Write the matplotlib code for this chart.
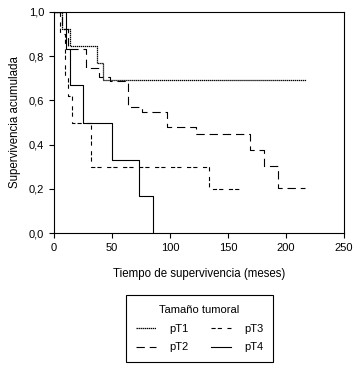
import matplotlib
matplotlib.use("Agg")
import matplotlib.pyplot as plt
from matplotlib.ticker import FuncFormatter, MultipleLocator

plt.rcParams['font.family'] = ['Liberation Sans', 'DejaVu Sans']
plt.rcParams['lines.scale_dashes'] = False

# Kaplan-Meier step data (time in months, cumulative survival)
t_pT1 = [0, 7, 14, 37, 42, 217]
s_pT1 = [1.0, 0.923, 0.846, 0.769, 0.692, 0.692]

t_pT2 = [0, 6.6, 12, 27.5, 39, 48, 63.5, 75.6, 97, 122.4, 169, 181.3, 193.4, 216]
s_pT2 = [1.0, 0.92, 0.83, 0.746, 0.706, 0.686, 0.571, 0.548, 0.479, 0.449, 0.374, 0.303, 0.206, 0.206]

t_pT3 = [0, 5, 9.5, 12.4, 15.2, 31.6, 134, 162.7]
s_pT3 = [1.0, 0.9, 0.7, 0.62, 0.50, 0.30, 0.20, 0.20]

t_pT4 = [0, 10.3, 14, 25.3, 49.7, 73.6, 85.6]
s_pT4 = [1.0, 0.833, 0.667, 0.5, 0.333, 0.167, 0.0]

labels = ['pT1', 'pT2', 'pT3', 'pT4']

fig = plt.figure(figsize=(3.59, 3.68), dpi=100)
W, H = 359, 368
ax = fig.add_axes([54 / W, (H - 233.3) / H, (344 - 54) / W, (233.3 - 11.7) / H])

lw = 0.8
h1, = ax.step(t_pT1, s_pT1, where='post', color='black', lw=0.9, linestyle=(0, (1.0, 0.45)))
h2, = ax.step(t_pT2, s_pT2, where='post', color='black', lw=lw, linestyle=(0, (6, 3.5)))
h3, = ax.step(t_pT3, s_pT3, where='post', color='black', lw=lw, linestyle=(0, (3, 1.5, 3, 4)))
h4, = ax.step(t_pT4, s_pT4, where='post', color='black', lw=lw, linestyle='-')

ax.set_xlim(0, 250)
ax.set_ylim(0, 1.0)
ax.xaxis.set_major_locator(MultipleLocator(50))
ax.yaxis.set_major_locator(MultipleLocator(0.2))
ax.yaxis.set_major_formatter(FuncFormatter(lambda v, p: f"{v:.1f}".replace('.', ',')))
ax.xaxis.set_major_formatter(FuncFormatter(lambda v, p: f"{int(round(v))}"))
ax.tick_params(direction='out', length=3.5, width=0.8, labelsize=8, colors='black')
for sp in ax.spines.values():
    sp.set_linewidth(0.8)
    sp.set_color('black')

ax.set_xlabel('Tiempo de supervivencia (meses)', fontsize=8.3, labelpad=11)
ax.set_ylabel('Supervivencia acumulada', fontsize=8.3, labelpad=6)

leg = fig.legend([h1, h2, h3, h4], labels, ncol=2, title='Tamaño tumoral',
                 loc='center', bbox_to_anchor=(199.5 / W, (H - 328.5) / H),
                 fontsize=8, title_fontsize=8, frameon=True, fancybox=False,
                 edgecolor='black', framealpha=1, handlelength=1.8,
                 handletextpad=1.2, columnspacing=2.0, borderpad=0.9,
                 labelspacing=0.8, borderaxespad=0)
leg.get_frame().set_linewidth(0.8)

fig.savefig('out.png', dpi=100)
